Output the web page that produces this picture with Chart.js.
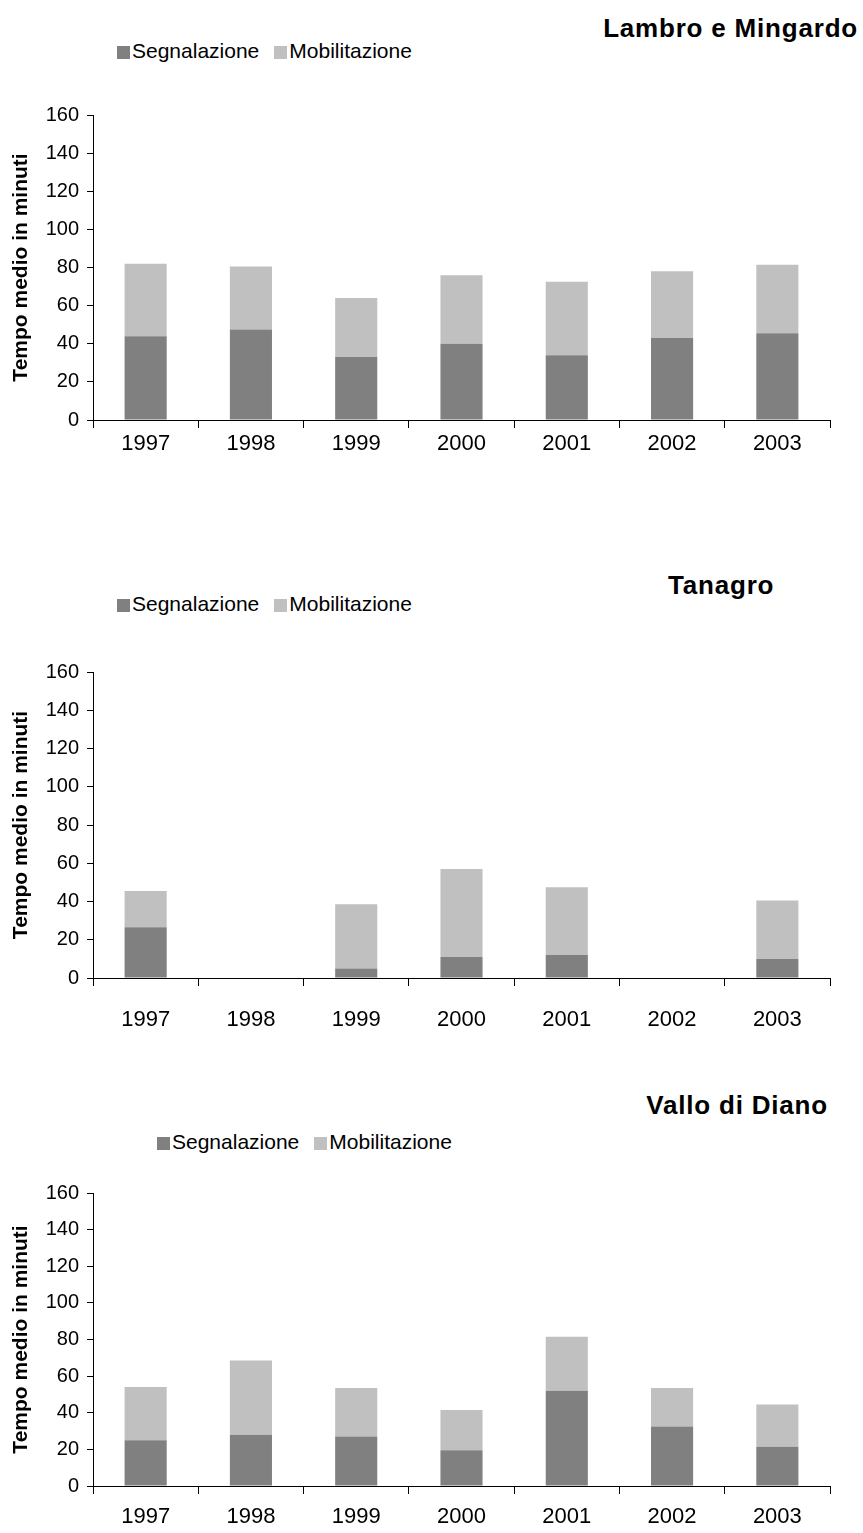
<!DOCTYPE html>
<html>
<head>
<meta charset="utf-8">
<script src="https://cdn.jsdelivr.net/npm/chart.js@4.4.1/dist/chart.umd.min.js"></script>
<style>
body { margin: 0; background: #fff; font-family: "Liberation Sans", Arial, sans-serif; }
#page { position: relative; width: 863px; height: 1533px; overflow: hidden; }
.title { position: absolute; font-weight: bold; font-size: 26px; letter-spacing: 0.8px; color: #000; white-space: nowrap; line-height: 1; }
.legend { position: absolute; font-size: 21px; color: #000; white-space: nowrap; line-height: 1; }
.legend .box { display: inline-block; width: 13px; height: 13px; margin-right: 2px; vertical-align: -1px; }
.legend .item2 { margin-left: 15px; }
canvas { position: absolute; left: 0; }
</style>
</head>
<body>
<div id="page">
  <div class="title" style="right:5px; top:15px;">Lambro e Mingardo</div>
  <div class="legend" style="left:117px; top:40px;"><span class="box" style="background:#808080"></span>Segnalazione<span class="box item2" style="background:#c0c0c0"></span>Mobilitazione</div>
  <canvas id="c1" width="863" height="380" style="top:95px"></canvas>

  <div class="title" style="left:668px; top:572px;">Tanagro</div>
  <div class="legend" style="left:117px; top:593px;"><span class="box" style="background:#808080"></span>Segnalazione<span class="box item2" style="background:#c0c0c0"></span>Mobilitazione</div>
  <canvas id="c2" width="863" height="430" style="top:652px"></canvas>

  <div class="title" style="right:35px; top:1092px;">Vallo di Diano</div>
  <div class="legend" style="left:157px; top:1131px;"><span class="box" style="background:#808080"></span>Segnalazione<span class="box item2" style="background:#c0c0c0"></span>Mobilitazione</div>
  <canvas id="c3" width="863" height="360" style="top:1173px"></canvas>
</div>
<script>
const years = ['1997', '1998', '1999', '2000', '2001', '2002', '2003'];
const yTicks = [0, 20, 40, 60, 80, 100, 120, 140, 160];

// Lambro e Mingardo
const segLambro = [44, 47.5, 33, 40, 34, 43, 45.5];
const mobLambro = [38, 33, 31, 36, 38.5, 35, 36];

// Tanagro (no data for 1998 and 2002)
const segTanagro = [26.5, null, 5, 11, 12, null, 10];
const mobTanagro = [19, null, 33.5, 46, 35.5, null, 30.5];

// Vallo di Diano
const segVallo = [25, 28, 27, 19.5, 52, 32.5, 21.5];
const mobVallo = [29, 40.5, 26.5, 22, 29.5, 21, 23];

const FONT = '"Liberation Sans", Arial, sans-serif';

function make_chart(id, seg, mob, topPad, xHeight, xPad) {
	return new Chart(document.getElementById(id), {
		type: 'bar',
		data: {
			labels: years,
			datasets: [
				{ label: 'Segnalazione', data: seg, backgroundColor: '#808080', borderWidth: 0 },
				{ label: 'Mobilitazione', data: mob, backgroundColor: '#c0c0c0', borderWidth: 0 }
			]
		},
		options: {
			responsive: false,
			animation: false,
			layout: { padding: { top: topPad, right: 33, left: 0, bottom: 0 } },
			datasets: { bar: { categoryPercentage: 1.0, barPercentage: 0.4 } },
			plugins: { legend: { display: false }, tooltip: { enabled: false } },
			scales: {
				x: {
					stacked: true,
					grid: { drawOnChartArea: false, offset: true, tickLength: 8, color: '#000' },
					border: { color: '#000' },
					ticks: { color: '#000', font: { family: FONT, size: 22 }, padding: xPad, maxRotation: 0 },
					afterFit: s => { s.height = xHeight; }
				},
				y: {
					stacked: true,
					min: 0,
					max: 160,
					afterBuildTicks: s => { s.ticks = yTicks.map(v => ({ value: v })); },
					grid: { drawOnChartArea: false, tickLength: 6, color: '#000' },
					border: { color: '#000' },
					ticks: { color: '#000', font: { family: FONT, size: 20 }, padding: 8 },
					title: {
						display: true,
						text: 'Tempo medio in minuti',
						color: '#000',
						font: { family: FONT, size: 21, weight: 'bold' },
						padding: { top: 9, bottom: 0 }
					},
					afterFit: s => { s.width = 93; }
				}
			}
		}
	});
}

make_chart('c1', segLambro, mobLambro, 15, 55, 3);
make_chart('c2', segTanagro, mobTanagro, 15, 104, 21);
make_chart('c3', segVallo, mobVallo, 15, 47, 10);
</script>
</body>
</html>
